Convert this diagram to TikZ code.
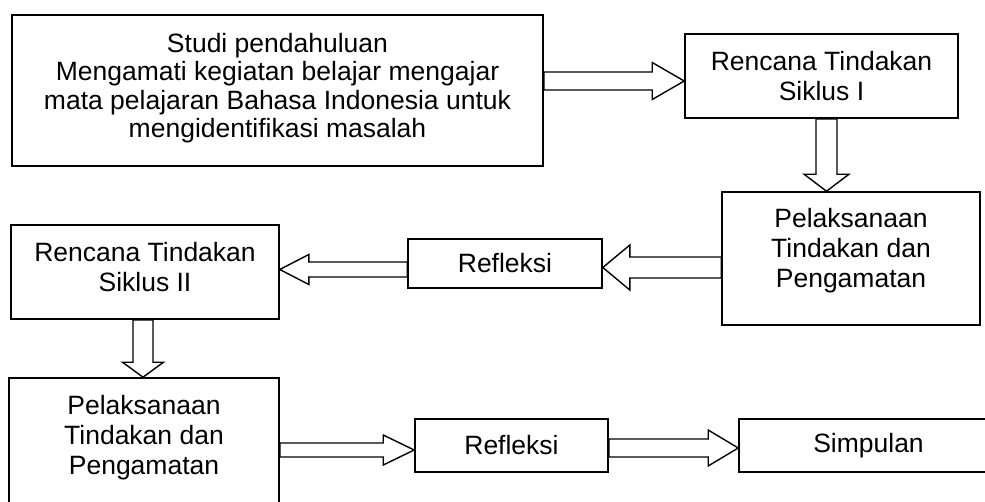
\documentclass[tikz,border=0pt]{standalone}
\usepackage{fontspec}
\setmainfont{Liberation Sans}
\usetikzlibrary{calc}
\newcommand\dpt[1]{\rule[-#1]{0pt}{#1}}
\newcommand\blockarrow[5]{%
  \draw[blk] let \p1=(#1), \p2=(#2),
    \n1={veclen(\x2-\x1,\y2-\y1)},
    \n2={(\x2-\x1)/\n1}, \n3={(\y2-\y1)/\n1} in
    ({\x1-#3*\n3}, {\y1+#3*\n2}) --
    ({\x2-#5*\n2-#3*\n3}, {\y2-#5*\n3+#3*\n2}) --
    ({\x2-#5*\n2-#4*\n3}, {\y2-#5*\n3+#4*\n2}) --
    (\p2) --
    ({\x2-#5*\n2+#4*\n3}, {\y2-#5*\n3-#4*\n2}) --
    ({\x2-#5*\n2+#3*\n3}, {\y2-#5*\n3-#3*\n2}) --
    ({\x1+#3*\n3}, {\y1-#3*\n2}) -- cycle;}
\tikzset{
  box/.style={draw=black, line width=1.6pt, fill=white, rectangle, align=center,
    inner sep=0pt, font=\fontsize{26.5}{30}\selectfont},
  blk/.style={draw=black, line width=1.4pt, fill=white, line join=miter}
}
\begin{document}
\begin{tikzpicture}[x=1pt, y=-1pt]
\useasboundingbox (0,0) rectangle (985,501);
\clip (0,0) rectangle (985,501);
\fill[white] (0,0) rectangle (985,501);
\node[box, minimum width=531pt, minimum height=151pt, font=\fontsize{26.5}{28.5}\selectfont] (studi) at (277.5,90.5)
  {Studi pendahuluan\\Mengamati kegiatan belajar mengajar\\mata pelajaran Bahasa Indonesia untuk\\mengidentifikasi masalah\dpt{10pt}};
\node[box, minimum width=273pt, minimum height=84pt] (ren1) at (821.5,76) {Rencana Tindakan\\Siklus I};
\node[box, minimum width=258pt, minimum height=133pt] (pel1) at (851,258.5) {Pelaksanaan\\Tindakan dan\\Pengamatan\dpt{21pt}};
\node[box, minimum width=194pt, minimum height=49pt] (ref1) at (505,263.5) {Refleksi};
\node[box, minimum width=268pt, minimum height=94pt] (ren2) at (145,272) {Rencana Tindakan\\Siklus II\dpt{10pt}};
\node[box, minimum width=270pt, minimum height=142pt] (pel2) at (144,449) {Pelaksanaan\\Tindakan dan\\Pengamatan\dpt{28pt}};
\node[box, minimum width=193pt, minimum height=53pt] (ref2) at (511.5,445.5) {Refleksi};
\node[box, minimum width=259pt, minimum height=53pt] (simp) at (868.5,445.5) {Simpulan};
% connectors
\coordinate (t1) at ($(ren1.west)+(0,5)$);
\blockarrow{studi.east |- t1}{t1}{9}{18.5}{32}
\coordinate (s2) at ($(ren1.south)+(5,0)$);
\blockarrow{s2}{s2 |- pel1.north}{10.5}{22.5}{17}
\coordinate (s3) at ($(pel1.west)+(0,9)$);
\blockarrow{s3}{ref1.east |- s3}{10.5}{22.5}{27}
\coordinate (s4) at ($(ref1.west)+(0,6)$);
\blockarrow{s4}{ren2.east |- s4}{7.5}{15}{29}
\coordinate (s5) at ($(ren2.south)+(-2,0)$);
\blockarrow{s5}{s5 |- pel2.north}{10}{20.5}{15}
\coordinate (t6) at ($(ref2.west)+(0,4.5)$);
\blockarrow{pel2.east |- t6}{t6}{7}{15}{31}
\coordinate (s7) at ($(ref2.east)+(0,2.5)$);
\blockarrow{s7}{simp.west |- s7}{9}{18}{30}
\end{tikzpicture}
\end{document}
